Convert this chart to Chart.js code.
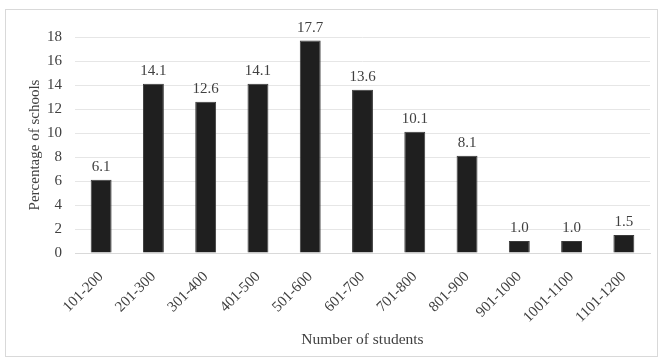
<!DOCTYPE html>
<html>
<head>
<meta charset="utf-8">
<script src="https://cdn.jsdelivr.net/npm/chart.js@4"></script>
<style>
  html, body { margin: 0; padding: 0; background: #fff; }
</style>
</head>
<body>
<canvas id="canvas1" width="659" height="360"></canvas>
<script>
// data
var categorias = ['101-200', '201-300', '301-400', '401-500', '501-600', '601-700',
                  '701-800', '801-900', '901-1000', '1001-1100', '1101-1200'];
var percentuais = [6.1, 14.1, 12.6, 14.1, 17.7, 13.6, 10.1, 8.1, 1.0, 1.0, 1.5];
var yMax = 18;
var yStep = 2;

var fonte = "'Liberation Serif', 'Times New Roman', serif";

// moldura cinza em volta do grafico
var moldura = {
	id: 'moldura',
	beforeDraw: function(chart) {
		var ctx = chart.ctx;
		ctx.save();
		ctx.strokeStyle = '#d9d9d9';
		ctx.lineWidth = 1;
		ctx.strokeRect(5.5, 9.5, 652, 347);
		ctx.restore();
	}
};

// valores em cima das barras
var rotulos = {
	id: 'rotulos',
	afterDatasetsDraw: function(chart) {
		var ctx = chart.ctx;
		var meta = chart.getDatasetMeta(0);
		ctx.save();
		ctx.font = "15px " + fonte;
		ctx.fillStyle = '#404040';
		ctx.textAlign = 'center';
		ctx.textBaseline = 'bottom';
		meta.data.forEach(function(bar, i) {
			ctx.fillText(percentuais[i].toFixed(1), bar.x, bar.y - 5);
		});
		ctx.restore();
	}
};

var ctx = document.getElementById("canvas1").getContext("2d");
window.myBar = new Chart(ctx, {
	type: 'bar',
	data: {
		labels: categorias,
		datasets: [{
			label: 'Percentage of schools',
			data: percentuais,
			backgroundColor: '#1f1f1f',
			borderColor: '#3a3a3a',
			borderWidth: 1,
			barPercentage: 0.4,
			categoryPercentage: 1.0
		}]
	},
	options: {
		responsive: false,
		animation: false,
		layout: {
			padding: { left: 26, right: 9, top: 37, bottom: 8 }
		},
		plugins: {
			legend: { display: false },
			tooltip: { enabled: false }
		},
		scales: {
			x: {
				grid: { display: false },
				border: { color: '#d9d9d9' },
				ticks: {
					color: '#404040',
					font: { family: fonte, size: 15 },
					minRotation: 45,
					maxRotation: 45,
					padding: 7
				},
				title: {
					display: true,
					text: 'Number of students',
					color: '#404040',
					font: { family: fonte, size: 15.5 },
					padding: { top: 0, bottom: 3 }
				},
				afterFit: function(scale) { scale.height = 99; }
			},
			y: {
				min: 0,
				max: yMax,
				grid: { color: '#e6e6e6', drawTicks: false },
				border: { display: false },
				ticks: {
					stepSize: yStep,
					color: '#404040',
					font: { family: fonte, size: 15 },
					padding: 13
				},
				title: {
					display: true,
					text: 'Percentage of schools',
					color: '#404040',
					font: { family: fonte, size: 15 },
					padding: { top: 0, bottom: 0 }
				},
				afterFit: function(scale) { scale.width = 49; }
			}
		}
	},
	plugins: [moldura, rotulos]
});
</script>
</body>
</html>
